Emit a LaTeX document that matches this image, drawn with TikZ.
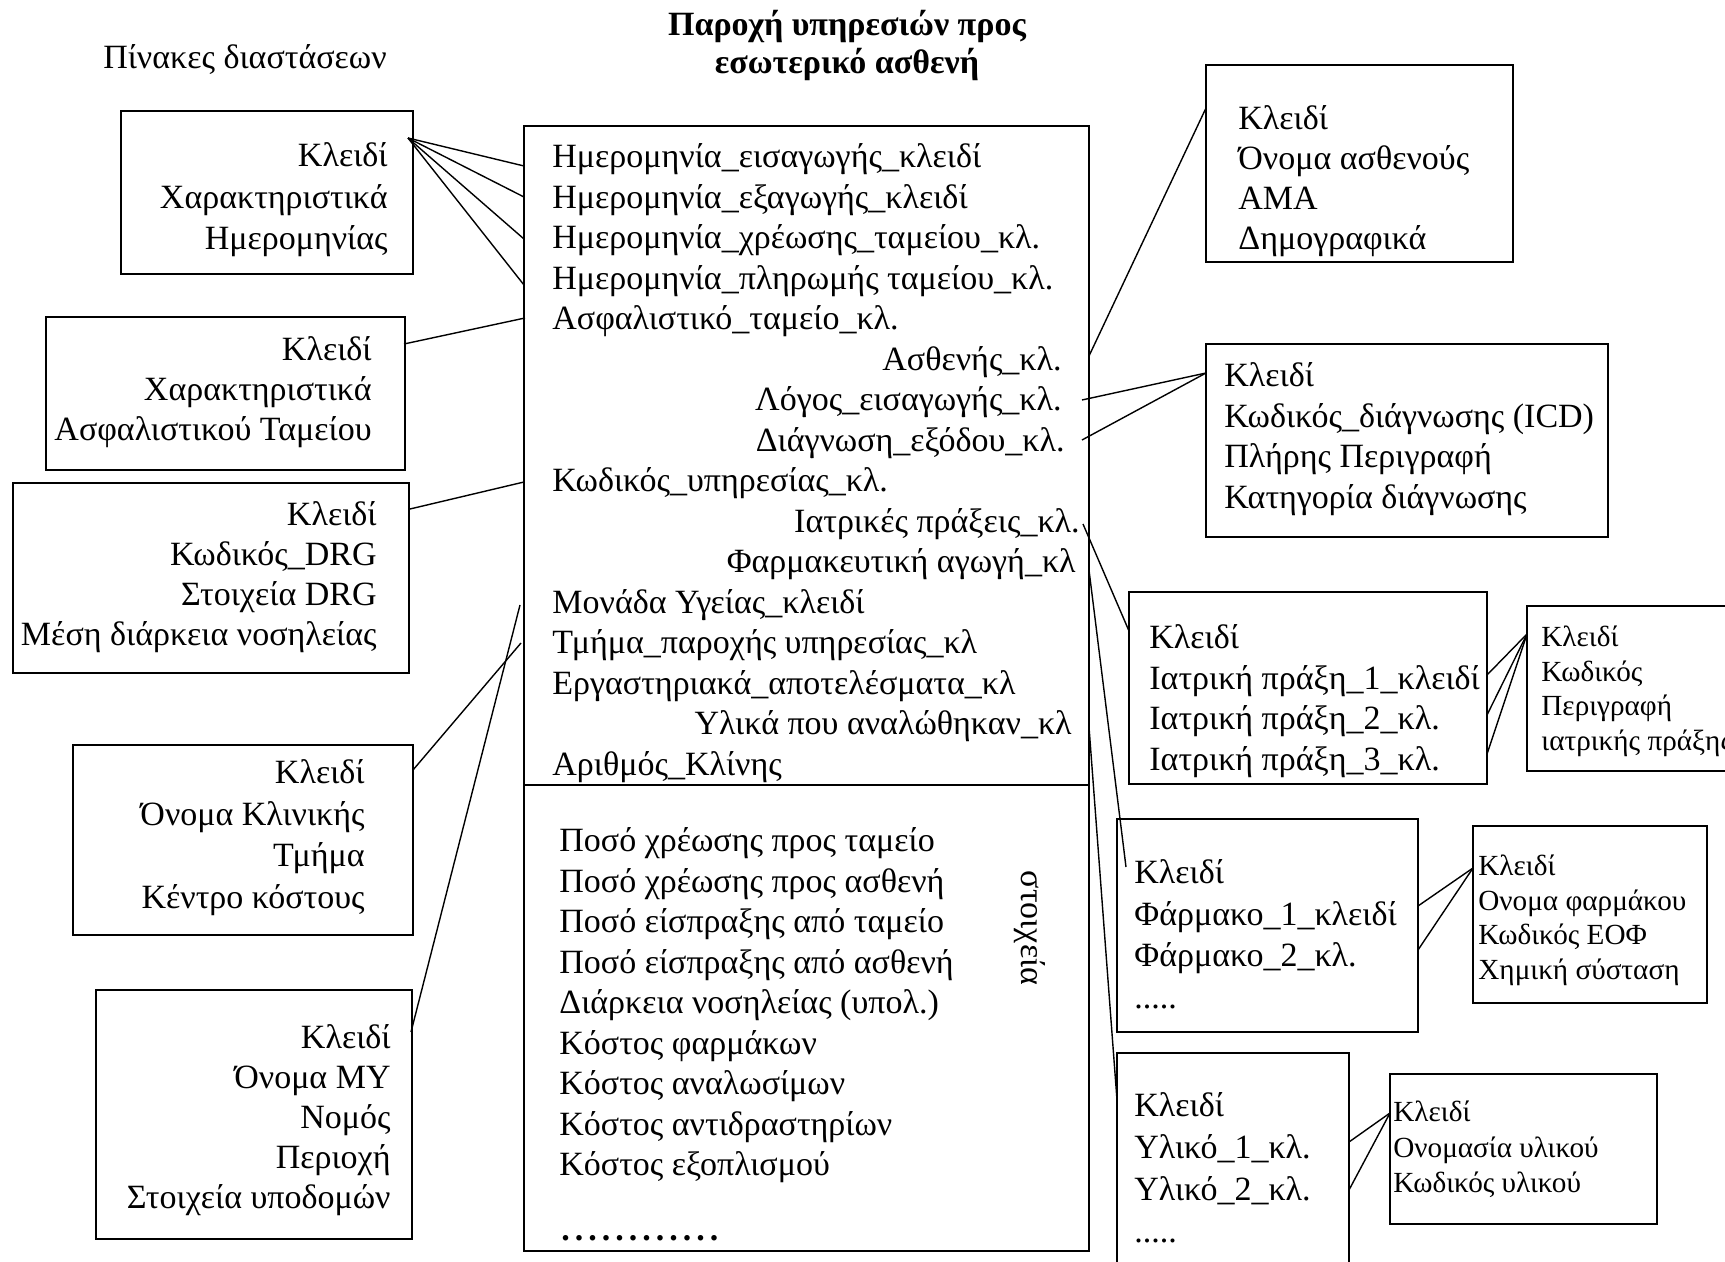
\documentclass[tikz,border=0pt]{standalone}
\usepackage{fontspec}
\setmainfont{Liberation Serif}
\usetikzlibrary{fit}
\newcommand\fivedots{.....}
\begin{document}
\begin{tikzpicture}[x=0.5pt, y=-0.5pt,
  box/.style={draw, line width=0.9pt, inner sep=0pt},
  wire/.style={line width=0.7pt},
  txt/.style={inner sep=0pt, yshift=-3.6pt, font=\fontsize{17pt}{20pt}\selectfont},
  small/.style={inner sep=0pt, yshift=-1.5pt, font=\fontsize{14.6pt}{18pt}\selectfont},
  bold/.style={inner sep=0pt, yshift=-2.2pt, font=\fontsize{17pt}{20pt}\selectfont\bfseries},
]
\useasboundingbox (0,0) rectangle (1725,1262);
\clip (0,0) rectangle (1725,1262);

% ---------- headings ----------
\node[txt, yshift=1.5pt, anchor=mid] (dimtitle) at (245,60) {Πίνακες διαστάσεων};
\node[bold, anchor=mid] (facttitleA) at (847,27) {Παροχή υπηρεσιών προς};
\node[bold, anchor=mid] (facttitleB) at (847,65) {εσωτερικό ασθενή};

% ---------- fact table ----------
\node[box, fit={(524,126) (1089,1251)}] (fact) {};
\coordinate (divy) at (0,785);
\draw[line width=0.9pt] (fact.west |- divy) -- (fact.east |- divy);

\foreach \i/\t in {
  1/{Ημερομηνία\_εισαγωγής\_κλειδί},
  2/{Ημερομηνία\_εξαγωγής\_κλειδί},
  3/{Ημερομηνία\_χρέωσης\_ταμείου\_κλ.},
  4/{Ημερομηνία\_πληρωμής ταμείου\_κλ.},
  5/{Ασφαλιστικό\_ταμείο\_κλ.},
  9/{Κωδικός\_υπηρεσίας\_κλ.},
  12/{Μονάδα Υγείας\_κλειδί},
  13/{Τμήμα\_παροχής υπηρεσίας\_κλ},
  14/{Εργαστηριακά\_αποτελέσματα\_κλ},
  16/{Αριθμός\_Κλίνης}}
  \node[txt, anchor=mid west] (f\i) at (552,{156+40.5*(\i-1)}) {\t};

\foreach \i/\x/\t in {
  6/1062/{Ασθενής\_κλ.},
  7/1062/{Λόγος\_εισαγωγής\_κλ.},
  8/1065/{Διάγνωση\_εξόδου\_κλ.},
  10/1080/{Ιατρικές πράξεις\_κλ.},
  11/1076/{Φαρμακευτική αγωγή\_κλ},
  15/1072/{Υλικά που αναλώθηκαν\_κλ}}
  \node[txt, anchor=mid east] (f\i) at (\x,{156+40.5*(\i-1)}) {\t};

\foreach \t [count=\i from 0] in {
  Ποσό χρέωσης προς ταμείο,
  Ποσό χρέωσης προς ασθενή,
  Ποσό είσπραξης από ταμείο,
  Ποσό είσπραξης από ασθενή,
  Διάρκεια νοσηλείας (υπολ.),
  Κόστος φαρμάκων,
  Κόστος αναλωσίμων,
  Κόστος αντιδραστηρίων,
  Κόστος εξοπλισμού}
  \node[txt, anchor=mid west] (m\i) at (559,{840+40.5*\i}) {\t};

\node[inner sep=0pt, font=\fontsize{17pt}{20pt}\selectfont\bfseries, anchor=base west] (mdots) at (561,1240)
  {.\hspace{2.5pt}.\hspace{2.5pt}.\hspace{2.5pt}.\hspace{2.5pt}.\hspace{2.5pt}.\hspace{2.5pt}.\hspace{2.5pt}.\hspace{2.5pt}.\hspace{2.5pt}.\hspace{2.5pt}.\hspace{2.5pt}.};
\node[inner sep=0pt, font=\fontsize{17pt}{20pt}\selectfont, rotate=-90, anchor=mid] (stoix) at (1026,928) {στοιχεία};

% ---------- dimension tables, left ----------
\node[box, fit={(121,111) (413,274)}] (datebox) {};
\foreach \t [count=\i] in {Κλειδί, Χαρακτηριστικά, Ημερομηνίας}
  \node[txt, anchor=mid east] (date\i) at (388,{155+41.5*(\i-1)}) {\t};

\node[box, fit={(46,317) (405,470)}] (fundbox) {};
\foreach \t [count=\i] in {Κλειδί, Χαρακτηριστικά, Ασφαλιστικού Ταμείου}
  \node[txt, anchor=mid east] (fund\i) at (372,{349+40*(\i-1)}) {\t};

\node[box, fit={(13,483) (409,673)}] (drgbox) {};
\foreach \t [count=\i] in {Κλειδί, Κωδικός\_DRG, Στοιχεία DRG, Μέση διάρκεια νοσηλείας}
  \node[txt, anchor=mid east] (drg\i) at (377,{514+40*(\i-1)}) {\t};

\node[box, fit={(73,745) (413,935)}] (clinbox) {};
\foreach \t [count=\i] in {Κλειδί, Όνομα Κλινικής, Τμήμα, Κέντρο κόστους}
  \node[txt, anchor=mid east] (clin\i) at (365,{772+41.5*(\i-1)}) {\t};

\node[box, fit={(96,990) (412,1239)}] (unitbox) {};
\foreach \t [count=\i] in {Κλειδί, Όνομα ΜΥ, Νομός, Περιοχή, Στοιχεία υποδομών}
  \node[txt, anchor=mid east] (unit\i) at (391,{1037+40*(\i-1)}) {\t};

% ---------- dimension tables, right ----------
\node[box, fit={(1206,65) (1513,262)}] (patbox) {};
\foreach \t [count=\i] in {Κλειδί, Όνομα ασθενούς, ΑΜΑ, Δημογραφικά}
  \node[txt, anchor=mid west] (pat\i) at (1238,{118+40*(\i-1)}) {\t};

\node[box, fit={(1206,344) (1608,537)}] (icdbox) {};
\foreach \t [count=\i] in {Κλειδί, Κωδικός\_διάγνωσης (ICD), Πλήρης Περιγραφή, Κατηγορία διάγνωσης}
  \node[txt, anchor=mid west] (icd\i) at (1224,{375+40.5*(\i-1)}) {\t};

\node[box, fit={(1129,592) (1487,784)}] (actbox) {};
\foreach \t [count=\i] in {Κλειδί, Ιατρική πράξη\_1\_κλειδί, Ιατρική πράξη\_2\_κλ., Ιατρική πράξη\_3\_κλ.}
  \node[txt, anchor=mid west] (act\i) at (1149,{637+40.5*(\i-1)}) {\t};

\node[box, fit={(1527,606) (1780,771)}] (actdbox) {};
\foreach \t [count=\i] in {Κλειδί, Κωδικός, Περιγραφή, ιατρικής πράξης}
  \node[small, anchor=mid west] (actd\i) at (1541,{639+34.7*(\i-1)}) {\t};

\node[box, fit={(1117,819) (1418,1032)}] (drugbox) {};
\foreach \t [count=\i] in {Κλειδί, Φάρμακο\_1\_κλειδί, Φάρμακο\_2\_κλ., \fivedots}
  \node[txt, anchor=mid west] (drug\i) at (1134,{872+41.5*(\i-1)}) {\t};

\node[box, fit={(1473,826) (1707,1003)}] (drugdbox) {};
\foreach \t [count=\i] in {Κλειδί, Ονομα φαρμάκου, Κωδικός ΕΟΦ, Χημική σύσταση}
  \node[small, anchor=mid west] (drugd\i) at (1478,{868+34.7*(\i-1)}) {\t};

\node[box, fit={(1117,1053) (1349,1300)}] (matbox) {};
\foreach \t [count=\i] in {Κλειδί, Υλικό\_1\_κλ., Υλικό\_2\_κλ., \fivedots}
  \node[txt, anchor=mid west] (mat\i) at (1134,{1105+42*(\i-1)}) {\t};

\node[box, fit={(1390,1074) (1657,1224)}] (matdbox) {};
\foreach \t [count=\i] in {Κλειδί, Ονομασία υλικού, Κωδικός υλικού}
  \node[small, anchor=mid west] (matd\i) at (1393,{1114+35.5*(\i-1)}) {\t};

% ---------- connection points ----------
\coordinate (dateK) at (408,138);
\foreach \y [count=\k] in {166,197,239,285} \coordinate (dateF\k) at (524,\y);
\coordinate (fundK) at (404,344);   \coordinate (fundF) at (525,318);
\coordinate (drgK)  at (410,509);   \coordinate (drgF)  at (524,482);
\coordinate (clinK) at (413,770);   \coordinate (clinF) at (521,643);
\coordinate (unitK) at (411,1032);  \coordinate (unitF) at (520,605);
\coordinate (patK)  at (1206,108);  \coordinate (patF)  at (1089,356);
\coordinate (icdK)  at (1206,373);
\coordinate (icdFa) at (1082,400);  \coordinate (icdFb) at (1082,440);
\coordinate (actK)  at (1129,631);  \coordinate (actF)  at (1083,524);
\coordinate (drugK) at (1126,867);  \coordinate (drugF) at (1089,570);
\coordinate (matK)  at (1117,1100); \coordinate (matF)  at (1089,727);
\coordinate (actdK) at (1527,634);
\foreach \y [count=\k] in {675,715,754} \coordinate (actR\k) at (1487,\y);
\coordinate (drugdK) at (1473,868);
\coordinate (drugRa) at (1418,906); \coordinate (drugRb) at (1418,950);
\coordinate (matdK) at (1390,1113);
\coordinate (matRa) at (1349,1142); \coordinate (matRb) at (1349,1190);

% ---------- connectors ----------
\foreach \k in {1,...,4} \draw[wire] (dateK) -- (dateF\k);
\draw[wire] (fundK) -- (fundF);
\draw[wire] (drgK) -- (drgF);
\draw[wire] (clinK) -- (clinF);
\draw[wire] (unitK) -- (unitF);
\draw[wire] (patK) -- (patF);
\draw[wire] (icdK) -- (icdFa);
\draw[wire] (icdK) -- (icdFb);
\draw[wire] (actF) -- (actK);
\draw[wire] (drugF) -- (drugK);
\draw[wire] (matF) -- (matK);
\foreach \k in {1,2,3} \draw[wire] (actdK) -- (actR\k);
\draw[wire] (drugdK) -- (drugRa);
\draw[wire] (drugdK) -- (drugRb);
\draw[wire] (matdK) -- (matRa);
\draw[wire] (matdK) -- (matRb);
\end{tikzpicture}
\end{document}
